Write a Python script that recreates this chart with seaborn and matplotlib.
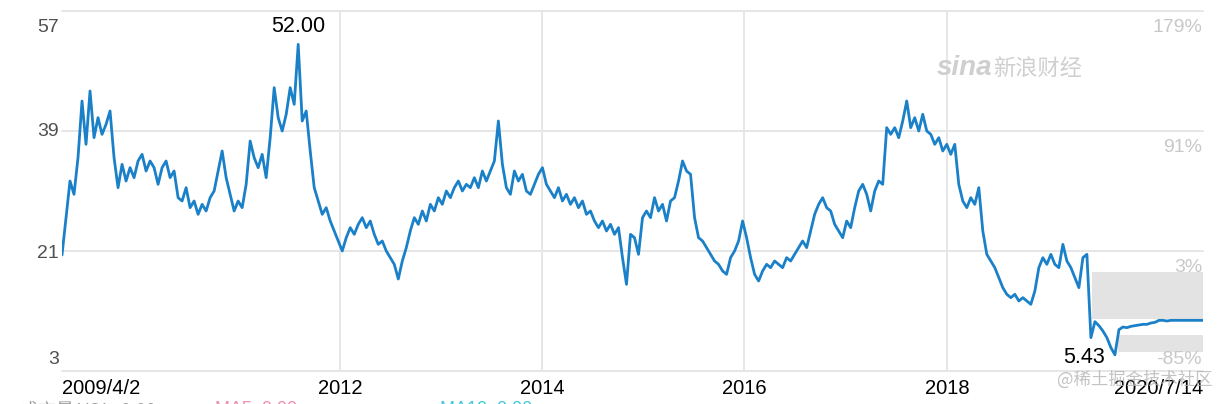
import numpy as np
import pandas as pd
import seaborn as sns
import matplotlib.pyplot as plt

# dữ liệu giá (mỗi điểm ~ 2 tuần)
start_date = "2009-04-02"
end_date = "2020-07-14"
prices = [
    20.4, 26.0, 31.5, 29.5, 35.0, 43.5, 37.0, 45.0, 38.0, 41.0,
    38.5, 40.0, 42.0, 35.0, 30.5, 34.0, 31.5, 33.5, 32.0, 34.5,
    35.5, 33.0, 34.5, 33.5, 31.0, 33.5, 34.5, 32.0, 33.0, 29.0,
    28.5, 30.5, 27.5, 28.5, 26.5, 28.0, 27.0, 29.0, 30.0, 33.0,
    36.0, 32.0, 29.5, 27.0, 28.5, 27.5, 31.0, 37.5, 35.0, 33.5,
    35.5, 32.0, 38.0, 45.5, 41.0, 39.0, 41.5, 45.5, 43.0, 52.0,
    40.5, 42.0, 36.0, 30.5, 28.5, 26.5, 27.5, 25.5, 24.0, 22.5,
    21.0, 23.0, 24.5, 23.5, 25.0, 26.0, 24.5, 25.5, 23.5, 22.0,
    22.5, 21.0, 20.0, 19.0, 16.8, 19.5, 21.5, 24.0, 26.0, 25.0,
    27.0, 25.5, 28.0, 27.0, 29.0, 28.0, 30.0, 29.0, 30.5, 31.5,
    30.0, 31.0, 30.5, 32.0, 30.5, 33.0, 31.5, 33.0, 34.5, 40.5,
    34.0, 30.5, 29.5, 33.0, 31.5, 32.5, 30.0, 29.5, 31.0, 32.5,
    33.5, 31.0, 30.0, 29.0, 30.5, 28.5, 29.5, 28.0, 29.0, 27.5,
    28.5, 26.5, 27.0, 25.5, 24.5, 25.5, 24.0, 25.0, 23.5, 24.5,
    20.0, 16.0, 23.5, 23.0, 20.5, 26.0, 27.0, 26.0, 29.0, 27.0,
    28.0, 25.5, 28.5, 29.0, 31.5, 34.5, 33.0, 32.5, 26.0, 23.0,
    22.5, 21.5, 20.5, 19.5, 19.0, 18.0, 17.5, 20.0, 21.0, 22.5,
    25.5, 23.0, 20.0, 17.5, 16.5, 18.0, 19.0, 18.5, 19.5, 19.0,
    18.5, 20.0, 19.5, 20.5, 21.5, 22.5, 21.5, 24.0, 26.5, 28.0,
    29.0, 27.5, 27.0, 25.0, 24.0, 23.0, 25.5, 24.5, 27.5, 30.0,
    31.0, 29.5, 27.0, 30.0, 31.5, 31.0, 39.5, 38.5, 39.5, 38.0,
    40.5, 43.5, 39.5, 41.0, 39.0, 41.5, 39.0, 38.5, 37.0, 38.0,
    36.0, 37.0, 35.5, 37.0, 31.0, 28.5, 27.5, 29.0, 28.0, 30.5,
    24.0, 20.5, 19.5, 18.5, 17.0, 15.5, 14.5, 14.0, 14.5, 13.5,
    14.0, 13.5, 13.0, 15.0, 18.5, 20.0, 19.0, 20.5, 19.0, 18.5,
    22.0, 19.5, 18.5, 17.0, 15.5, 20.0, 20.5, 8.0, 10.4, 9.8,
    9.0, 8.0, 6.5, 5.43, 9.2, 9.6, 9.5, 9.7, 9.8, 9.9,
    10.0, 10.0, 10.2, 10.3, 10.6, 10.6, 10.5, 10.6, 10.6, 10.6,
    10.6, 10.6, 10.6, 10.6, 10.6, 10.6,
]

# trục
y_ticks = [57, 39, 21, 3]
x_tick_dates = ["2012-01-01", "2014-01-01", "2016-01-01", "2018-01-01"]
x_tick_labels = ["2012", "2014", "2016", "2018"]

# các ô xám phía cuối
box_starts = ["2019-06-09", "2019-09-11"]
box_lows = [10.8, 5.8]
box_highs = [17.8, 8.4]

line_color = "#1a80c8"
grid_color = "#e6e6e6"


def main():
    sns.set_style("white")
    plt.rcParams["font.family"] = ["Liberation Sans", "Noto Sans CJK SC", "DejaVu Sans"]

    dates = pd.date_range(start_date, end_date, periods=len(prices))
    df = pd.DataFrame({"date": dates, "price": prices})
    base = prices[0]

    fig = plt.figure(figsize=(12.28, 4.04), dpi=100)
    ax = fig.add_axes([62 / 1228, 33 / 404, 1141 / 1228, 360 / 404])

    # ô xám
    for s, lo, hi in zip(box_starts, box_lows, box_highs):
        ax.fill_between([pd.Timestamp(s), pd.Timestamp(end_date)], lo, hi,
                        color="#e3e3e3", lw=0, zorder=1)

    sns.lineplot(data=df, x="date", y="price", ax=ax, color=line_color,
                 linewidth=2.0, zorder=3)

    ax.set_xlim(pd.Timestamp(start_date), pd.Timestamp(end_date))
    ax.set_ylim(3, 57)
    for sp in ax.spines.values():
        sp.set_visible(False)
    ax.set_xticks([])
    ax.set_yticks([])
    ax.set_xlabel("")
    ax.set_ylabel("")

    # lưới
    for v in y_ticks:
        ax.axhline(v, color=grid_color, lw=1.4, zorder=0, clip_on=False)
    for d in x_tick_dates:
        ax.axvline(pd.Timestamp(d), color=grid_color, lw=1.4, zorder=0)

    # nhãn trục trái / phải
    ytrans = ax.get_yaxis_transform()
    left_dy = [-16, -1, -3, 12]
    right_dy = [-16, -16, -16, 12]
    for v, dl, dr in zip(y_ticks, left_dy, right_dy):
        ax.annotate(str(v), xy=(0, v), xycoords=ytrans, xytext=(-3, dl),
                    textcoords="offset pixels", ha="right", va="center",
                    fontsize=14, color="#505050", annotation_clip=False)
        pct = v / base - 1
        ax.annotate(f"{pct * 100:.0f}%", xy=(1, v), xycoords=ytrans, xytext=(-1, dr),
                    textcoords="offset pixels", ha="right", va="center",
                    fontsize=14, color="#c8c8c8", annotation_clip=False)

    # nhãn trục x
    xtrans = ax.get_xaxis_transform()
    ax.text(pd.Timestamp(start_date), -0.022, "2009/4/2", transform=xtrans,
            ha="left", va="top", fontsize=14.5, color="black")
    for d, lab in zip(x_tick_dates, x_tick_labels):
        ax.text(pd.Timestamp(d), -0.022, lab, transform=xtrans,
                ha="center", va="top", fontsize=14.5, color="black")
    ax.text(pd.Timestamp(end_date), -0.022, "2020/7/14", transform=xtrans,
            ha="right", va="top", fontsize=14.5, color="black", zorder=5)

    # max / min
    i_max = int(np.argmax(prices))
    i_min = int(np.argmin(prices))
    ax.annotate(f"{prices[i_max]:.2f}", xy=(dates[i_max], prices[i_max]),
                xytext=(0, 7), textcoords="offset pixels", ha="center", va="bottom",
                fontsize=15.5, color="black")
    ax.annotate(f"{prices[i_min]:.2f}", xy=(dates[i_min], prices[i_min]),
                xytext=(-10, -3), textcoords="offset pixels", ha="right", va="center",
                fontsize=15.5, color="black", annotation_clip=False)

    # watermark
    fig.text(937 / 1228, 1 - 68 / 404, "sina", fontsize=20, fontweight="bold",
             style="italic", color="#cfcfcf", ha="left", va="center")
    fig.text(993 / 1228, 1 - 68 / 404, "新浪财经", fontsize=16, color="#cfcfcf",
             ha="left", va="center", style="italic", family=["Noto Sans CJK SC"])
    fig.text(1212 / 1228, 1 - 380 / 404, "@稀土掘金技术社区", fontsize=12.5,
             color="#b4b4b4", alpha=0.8, ha="right", va="center",
             family=["Noto Sans CJK SC", "DejaVu Sans"], zorder=6)

    # dòng chú thích bị cắt ở đáy
    fig.text(20 / 1228, 1 - 401 / 404, "成交量 VOL: 0.00", fontsize=13,
             color="#999999", ha="left", va="top", family=["Noto Sans CJK SC", "DejaVu Sans"])
    fig.text(215 / 1228, 1 - 401 / 404, "MA5: 0.00", fontsize=13,
             color="#f08cac", ha="left", va="top")
    fig.text(440 / 1228, 1 - 401 / 404, "MA10: 0.00", fontsize=13,
             color="#3cc8d8", ha="left", va="top")

    fig.savefig("out.png", dpi=100)


if __name__ == "__main__":
    main()
